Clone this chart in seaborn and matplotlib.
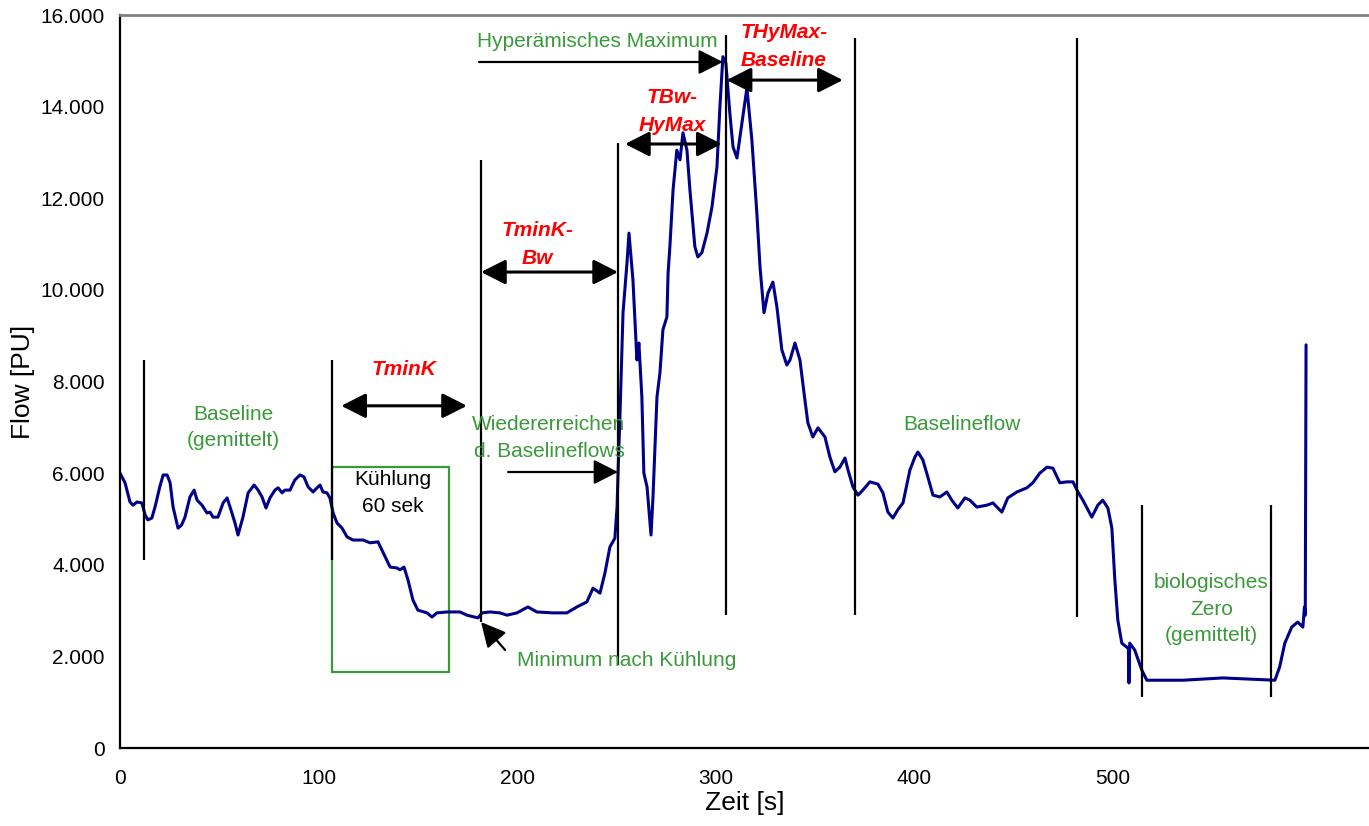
import numpy as np
import pandas as pd
import seaborn as sns
import matplotlib.pyplot as plt
from matplotlib.ticker import FuncFormatter

sns.set_style('white')
plt.rcParams['font.family'] = ['Liberation Sans', 'DejaVu Sans']
plt.rcParams['text.color'] = 'black'
plt.rcParams['axes.labelcolor'] = 'black'
plt.rcParams['xtick.color'] = 'black'
plt.rcParams['ytick.color'] = 'black'

# Laser-Doppler flow trace
zeit = [0, 2.5, 5, 6.5, 8.5, 11, 12.6, 14, 16, 17.6, 20, 21.7, 23.7, 25.2, 26.7, 29.2, 31, 32.7, 35.2, 37.3,
        38.8, 41.3, 43.8, 45.3, 46.8, 49.3, 51.9, 53.9, 55.4, 57.9, 59.4, 61.9, 64.5, 67.5, 69.5, 71.5, 73.5,
        75.5, 78, 79.6, 81.6, 83, 85.6, 88, 90.6, 92.6, 94.7, 97.2, 99.2, 100.7, 102.2, 104.2, 105.7, 107.3,
        109.3, 111.8, 114.3, 117.3, 122.4, 125.9, 129.9, 131.9, 134.4, 136, 139.5, 141, 143, 145, 147.5, 150,
        154.6, 157.1, 159.6, 164.7, 171.2, 174.7, 180.3, 182.3, 186.3, 191.3, 194.9, 199.9, 205.4, 209.9, 218,
        225, 230.1, 235.1, 238.2, 241.7, 244.2, 246.7, 249.2, 250.3,
        250.8, 251.8, 253.3, 255.3, 256.3, 257.3, 258.3, 259.8, 260.3, 261.3, 262.8, 263.8, 265.4, 267.4, 268.4,
        270.4, 271.9, 273.4, 275.4, 276.0, 276.9, 278.5, 280.4, 282, 283.5, 285.5, 287, 289.5, 291, 293, 295.6,
        298.1, 300.6, 302.1, 303.6, 305.1, 307.1, 308.7, 310.7, 313.2, 315.7, 318.2, 320.7, 322.3,
        324.3, 326.3, 328.8, 330.8, 333.3, 335.8, 337.4, 339.9, 342.4, 344.9, 346.4, 348.9, 351.5, 355, 357.5,
        360, 362.5, 365.1, 366.6, 369.1, 371.6, 374.1, 377.6, 381.7, 384.2, 386.7, 389.2, 391.7, 394.3, 397.8,
        400.3, 401.8, 404.3, 406.8, 409.4, 412.9, 416.4, 418.9, 421.9, 425.5, 428, 431.5, 436.5, 439.6, 444.1,
        447.1, 451.7, 456.7, 459.7, 463.2, 466.8, 469.8, 473.3, 476.8, 479.9, 482.4, 484.9, 489.4, 492.4, 494.9,
        497.5, 499.5,
        501, 502.5, 504.5, 507, 507.8, 508.1, 508.5, 511, 514.6, 517.1, 535.2, 555.4, 581.6, 584, 586.6, 590.1,
        593.1, 595.7, 596.5, 596.9, 597.3]
flow = [6000, 5790, 5370, 5300, 5370, 5350, 5090, 4980, 5020, 5260, 5700, 5960, 5960, 5790, 5260, 4800, 4870,
        5040, 5480, 5630, 5410, 5300, 5130, 5150, 5040, 5040, 5350, 5460, 5260, 4910, 4650, 5040, 5570, 5740,
        5630, 5480, 5240, 5460, 5630, 5680, 5570, 5630, 5630, 5850, 5960, 5920, 5700, 5590, 5680, 5740, 5590,
        5570, 5460, 5130,
        4910, 4800, 4610, 4540, 4540, 4480, 4500, 4320, 4100, 3950, 3930, 3890, 3950, 3670, 3230, 3010, 2950,
        2860, 2950, 2970, 2970, 2900, 2840, 2950, 2970, 2950, 2900, 2950, 3080, 2970, 2950, 2950, 3080, 3190,
        3490, 3380, 3820, 4390, 4580, 5260,
        6000, 7310, 9500, 10590, 11240, 10720, 10220, 8910, 8470, 8840, 7660, 6000, 5700, 4650, 5480, 7660, 8190,
        9130, 9410, 10370, 10940, 12180, 13050, 12840, 13430, 13050, 12180, 10940, 10720, 10810, 11240, 11810,
        12680, 13990, 15090, 14950, 13860, 13120, 12880, 13640, 14410, 13270, 11680, 10500,
        9500, 9930, 10170, 9630, 8690, 8360, 8470, 8840, 8470, 7600, 7100, 6790, 6990, 6790, 6350, 6030, 6130,
        6330, 6070, 5700, 5520, 5630, 5810, 5760, 5570, 5150, 5020, 5200, 5350, 6070, 6350, 6460, 6290, 5920,
        5520, 5480, 5590, 5410, 5240, 5460, 5410, 5260, 5300, 5350, 5150, 5460, 5590, 5680, 5790, 6000, 6130,
        6110, 5790, 5810, 5810, 5590, 5410, 5040, 5300, 5410, 5240, 4800,
        3670, 2790, 2290, 2200, 2200, 1420, 2290, 2140, 1700, 1480, 1480, 1530, 1480, 1770, 2290, 2640, 2750,
        2640, 3080, 2900, 8800]

# vertical marker lines: position, bottom, top
marker_t = [12.1, 106.7, 181.8, 250.8, 305.1, 370.1, 481.9, 514.6, 579.6]
marker_lo = [4100, 4100, 2750, 1810, 2900, 2900, 2860, 1110, 1110]
marker_hi = [8470, 8470, 12840, 13210, 15560, 15500, 15500, 5300, 5300]

# double arrows: start, end, height, label, label position
span_t0 = [111.4, 181.8, 254.3, 305.5]
span_t1 = [174.7, 250.8, 303.0, 364.0]
span_f = [7470, 10390, 13185, 14580]
span_label = ['TminK', 'TminK-\nBw', 'TBw-\nHyMax', 'THyMax-\nBaseline']
span_label_t = [143.0, 210.0, 278.0, 334.3]
span_label_f = [8270, 11000, 13900, 15320]

green = '#3a9a3a'
navy = '#00008b'

fig = plt.figure(figsize=(13.69, 8.26), dpi=100)
ax = fig.add_axes([0.0877, 0.0944, 0.9123, 0.8874])

df = pd.DataFrame({'Zeit': zeit, 'Flow': flow})
sns.lineplot(data=df, x='Zeit', y='Flow', ax=ax, color=navy, lw=2.2, sort=False, estimator=None)

ax.vlines(marker_t, marker_lo, marker_hi, colors='black', lw=1.6)

# Kühlung box
ax.add_patch(plt.Rectangle((106.7, 1660), 58.9, 4480, fill=False, ec=green, lw=1.6))
ax.text(137.5, 5570, 'Kühlung\n60 sek', ha='center', va='center', fontsize=15, color='black', linespacing=1.5)

arrow_kw = dict(arrowstyle='<|-|>,head_length=0.75,head_width=0.38', color='black', lw=2.2,
                mutation_scale=20, shrinkA=0, shrinkB=0)
for t0, t1, f, lab, lt, lf in zip(span_t0, span_t1, span_f, span_label, span_label_t, span_label_f):
    ax.annotate('', xy=(t1, f), xytext=(t0, f), arrowprops=arrow_kw)
    ax.text(lt, lf, lab, ha='center', va='center', fontsize=15, color='#ff0000',
            fontweight='bold', fontstyle='italic', linespacing=1.6)

one_kw = dict(arrowstyle='-|>,head_length=0.75,head_width=0.38', color='black', lw=1.6,
              mutation_scale=20, shrinkA=0, shrinkB=0)
ax.annotate('', xy=(303.6, 14975), xytext=(180.8, 14975), arrowprops=one_kw)
ax.annotate('', xy=(250.8, 6025), xytext=(195.4, 6025), arrowprops=one_kw)
ax.annotate('', xy=(181.8, 2750), xytext=(193.9, 2140), arrowprops=one_kw)

ax.text(56.9, 7000, 'Baseline\n(gemittelt)', ha='center', va='center', fontsize=15, color=green, linespacing=1.5)
ax.text(240.4, 15430, 'Hyperämisches Maximum', ha='center', va='center', fontsize=15, color=green)
ax.text(216.0, 6770, 'Wiedererreichen\nd. Baselineflows', ha='center', va='center', fontsize=15,
        color=green, linespacing=1.5)
ax.text(200.0, 1920, 'Minimum nach Kühlung', ha='left', va='center', fontsize=15, color=green)
ax.text(424.0, 7070, 'Baselineflow', ha='center', va='center', fontsize=15, color=green)
ax.text(549.7, 3030, 'biologisches\nZero\n(gemittelt)', ha='center', va='center', fontsize=15,
        color=green, linespacing=1.5)

ax.set_xlim(0, 629)
ax.set_ylim(0, 16000)
ax.set_xticks(np.arange(0, 601, 50))
ax.set_xticklabels([str(v) if v % 100 == 0 and v <= 500 else '' for v in range(0, 601, 50)])
ax.set_yticks(np.arange(0, 16001, 2000))
ax.yaxis.set_major_formatter(FuncFormatter(lambda v, p: f'{v:,.0f}'.replace(',', '.')))
ax.tick_params(axis='both', direction='inout', length=10, width=1.2, color='black', labelsize=15, pad=6)
ax.tick_params(axis='x', pad=10)

for s in ['left', 'bottom']:
    ax.spines[s].set_color('black')
    ax.spines[s].set_linewidth(1.6)
ax.spines['top'].set_color('#808080')
ax.spines['top'].set_linewidth(2)
ax.spines['right'].set_visible(False)

ax.set_xlabel('Zeit [s]', fontsize=19, labelpad=2)
ax.set_ylabel('Flow [PU]', fontsize=19, labelpad=4)

fig.savefig('out.png', dpi=100)
